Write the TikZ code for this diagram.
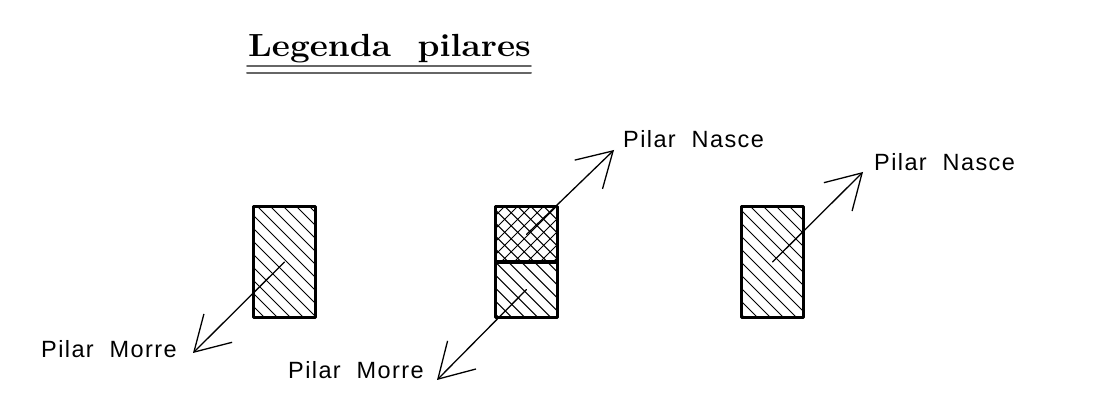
\documentclass[tikz,border=0pt]{standalone}
\usepackage{fontspec}
\newfontfamily\cadfont[LetterSpace=6]{Liberation Sans}
\usetikzlibrary{arrows.meta}
\usetikzlibrary{positioning}
% hatching of a cell: #1 is the node, #2 the offset of the line family
\newcommand{\hatchdown}[2]{
\begin{scope}
\clip (#1.south west) rectangle (#1.north east);
\foreach \k in {-12,...,12}
\draw[hatchline] (#2+\k*13,0) -- (#2+\k*13+400,400);
\end{scope}}
\newcommand{\hatchup}[2]{
\begin{scope}
\clip (#1.south west) rectangle (#1.north east);
\foreach \k in {-12,...,12}
\draw[hatchline] (#2+\k*13,0) -- (#2+\k*13-400,400);
\end{scope}}
\tikzset{
pillar/.style={draw=none,minimum width=62.5pt,minimum height=110pt,inner sep=0pt},
cell/.style={draw=none,minimum width=62.5pt,minimum height=55pt,inner sep=0pt},
outline/.style={draw=black,line width=3pt},
hatchline/.style={line width=1pt},
leader/.style={line width=1.3pt,-{Straight Barb[length=34pt,width=40pt,line width=1.3pt]}},
cadlabel/.style={font=\cadfont\fontsize{23.5}{23.5}\selectfont,inner sep=0pt,anchor=base west},
}
\begin{document}
\begin{tikzpicture}[line cap=round,line join=round,x=1pt,y=-1pt]
\useasboundingbox (0,0) rectangle (1096,403);
\node[anchor=base west,inner sep=0pt,font=\bfseries\fontsize{32}{32}\selectfont] (title) at (248,57) {\scalebox{1.1}[1]{Legenda\ \ pilares}};
\coordinate (ruleA) at (247,66);
\coordinate (ruleB) at (531,66);
\coordinate (ruleC) at (247,73);
\coordinate (ruleD) at (531,73);
\draw[line width=1.6pt,color=black!60] (ruleA) -- (ruleB);
\draw[line width=2pt,color=black!60] (ruleC) -- (ruleD);
% pillars
\node[pillar] (pilarA) at (284.5,262) {};
\node[cell] (pilarBtop) at (526.5,234.5) {};
\node[cell] (pilarBbot) at (526.5,289.5) {};
\node[pillar] (pilarC) at (772.5,262) {};
\hatchdown{pilarA}{64}
\hatchdown{pilarBtop}{259.3}
\hatchup{pilarBtop}{763}
\hatchdown{pilarBbot}{259.3}
\hatchdown{pilarC}{557}
\draw[outline] (pilarA.south west) rectangle (pilarA.north east);
\draw[outline] (pilarBtop.south west) rectangle (pilarBtop.north east);
\draw[outline] (pilarBbot.south west) rectangle (pilarBbot.north east);
\draw[outline] (pilarC.south west) rectangle (pilarC.north east);
% labels
\node[cadlabel] (morreA) at (41,357.5) {Pilar\ \ Morre};
\node[cadlabel] (morreB) at (288,379) {Pilar\ \ Morre};
\node[cadlabel] (nasceB) at (623,148) {Pilar\ \ Nasce};
\node[cadlabel] (nasceC) at (874,170.5) {Pilar\ \ Nasce};
% leaders
\coordinate (tipA) at (193,353);
\coordinate (tipBbot) at (437,380);
\coordinate (tipBtop) at (614,150);
\coordinate (tipC) at (863,172);
\draw[leader] (pilarA.center) -- (tipA);
\draw[leader] (pilarBbot.center) -- (tipBbot);
\draw[leader] (pilarBtop.center) -- (tipBtop);
\draw[leader] (pilarC.center) -- (tipC);
\end{tikzpicture}
\end{document}
